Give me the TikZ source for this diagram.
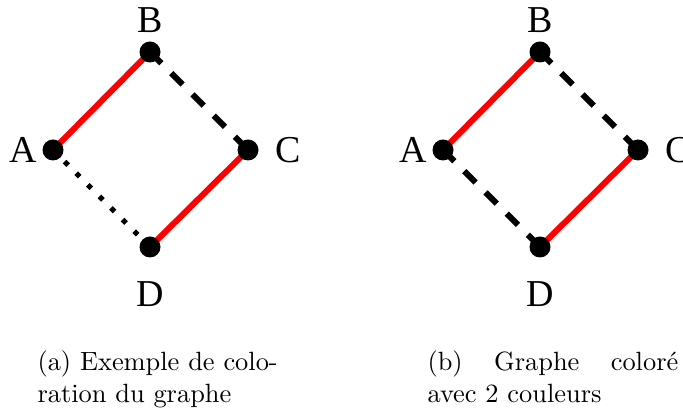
\documentclass[tikz,border=0pt]{standalone}
\usepackage{fontspec}
\newfontfamily\lblfont{Liberation Serif}
\usepackage{tikz}
\usetikzlibrary{positioning, backgrounds}
\newcommand{\capwd}{91pt}
\tikzset{
    vertex/.style={circle, fill=black, inner sep=0pt, minimum size=21pt},
    vlabel/.style={inner sep=0pt, font=\fontsize{38}{38}\selectfont\lblfont},
    redge/.style={draw=red, line width=6pt},
    dedge/.style={draw=black, line width=6pt, dash pattern=on 16pt off 14pt},
    pedge/.style={draw=black, line width=5pt, dash pattern=on 5pt off 11.4pt},
    legend/.style={anchor=base west, inner sep=0pt, scale=2.64, transform shape, font=\normalsize, text width=\capwd, align=left},
}

\begin{document}
\begin{tikzpicture}[x=1pt, y=1pt]
    \useasboundingbox (0,0) rectangle (683,409);
    % (a) premier coloriage
    \node[vertex] (a1) at (53,259) {};
    \node[vertex] (b1) at (150,357) {};
    \node[vertex] (c1) at (248,259) {};
    \node[vertex] (d1) at (150,162) {};
    \node[vlabel, left=5pt of a1] {A};
    \node[vlabel, above=8.5pt of b1] {B};
    \node[vlabel, right=16.5pt of c1] {C};
    \node[vlabel, below=23.5pt of d1] {D};
    % (b) graphe colore avec 2 couleurs
    \node[vertex] (a2) at (443,259) {};
    \node[vertex] (b2) at (540,357) {};
    \node[vertex] (c2) at (638,259) {};
    \node[vertex] (d2) at (540,162) {};
    \node[vlabel, left=5pt of a2] {A};
    \node[vlabel, above=8.5pt of b2] {B};
    \node[vlabel, right=16.5pt of c2] {C};
    \node[vlabel, below=23.5pt of d2] {D};
    \begin{pgfonlayer}{background}
        \draw[redge] (a1.center) -- (b1.center);
        \draw[dedge] (b1.center) -- (c1.center);
        \draw[redge] (c1.center) -- (d1.center);
        \draw[pedge] (a1.center) -- (d1.center);
        \draw[redge] (a2.center) -- (b2.center);
        \draw[dedge] (b2.center) -- (c2.center);
        \draw[redge] (c2.center) -- (d2.center);
        \draw[dedge] (a2.center) -- (d2.center);
    \end{pgfonlayer}
    % legendes
    \node[legend] (cap1) at (37,38) {\hbox to \capwd{(a)\hfill Exemple\hfill de\hfill colo-}\\ration du graphe};
    \node[legend] (cap2) at (427,38) {\hbox to 95pt{(b)\hfill Graphe\hfill color\'e}\\avec 2 couleurs};
\end{tikzpicture}
\end{document}
